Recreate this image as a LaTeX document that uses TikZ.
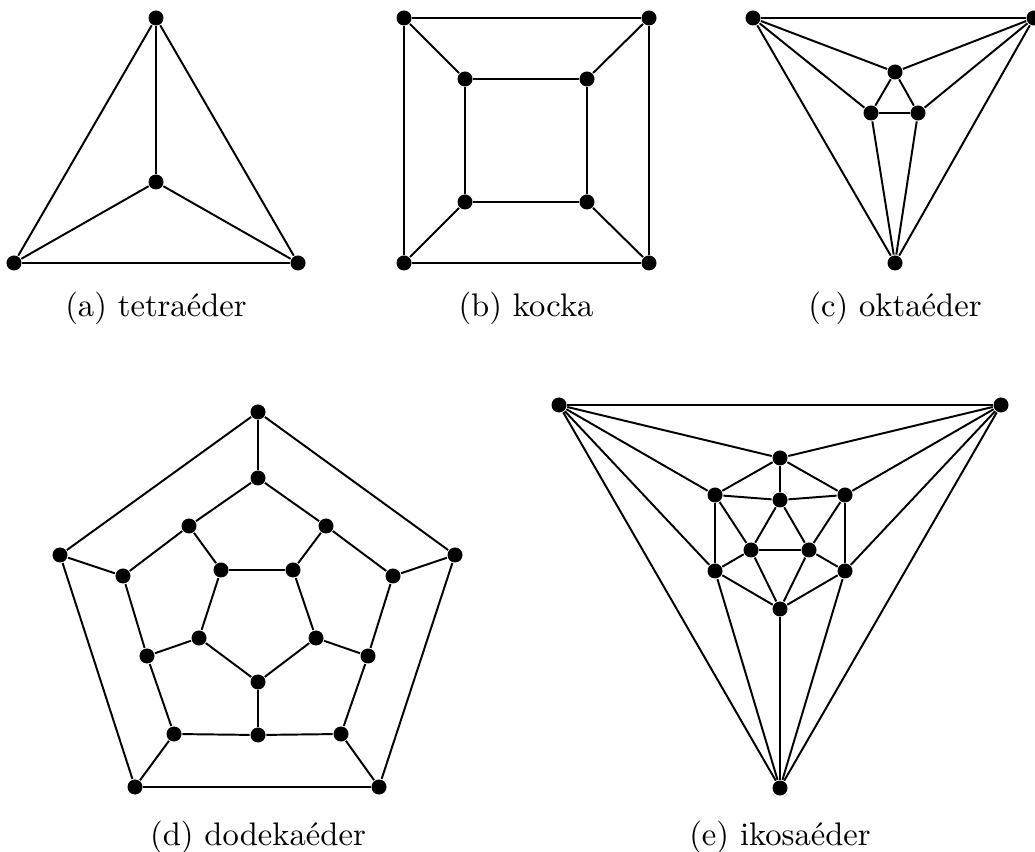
\documentclass[tikz,border=0pt]{standalone}

\tikzset{
	csucs/.style={circle, fill=black, inner sep=0pt, minimum size=4.6pt},
	felirat/.style={anchor=base}
}

\begin{document}
\begin{tikzpicture}[x=0.3066pt, y=-0.3066pt, line width=0.6pt]
		\useasboundingbox (0, 0) rectangle (1035, 852);
		
		% tetraeder
		\node[csucs] (t1) at (156, 18) {};
		\node[csucs] (t2) at (14, 263) {};
		\node[csucs] (t3) at (298, 263) {};
		\node[csucs] (t4) at (156, 182) {};
		\foreach \a/\b in {t1/t2, t2/t3, t3/t1, t4/t1, t4/t2, t4/t3}
			\draw (\a) -- (\b);
		\node[felirat] (fa) at (156, 317) {(a) tetraéder};
		
		% kocka
		\node[csucs] (k1) at (404, 18) {};
		\node[csucs] (k2) at (649, 18) {};
		\node[csucs] (k3) at (649, 263) {};
		\node[csucs] (k4) at (404, 263) {};
		\node[csucs] (k5) at (465, 79) {};
		\node[csucs] (k6) at (587, 79) {};
		\node[csucs] (k7) at (587, 202) {};
		\node[csucs] (k8) at (465, 202) {};
		\foreach \a/\b in {k1/k2, k2/k3, k3/k4, k4/k1, k5/k6, k6/k7, k7/k8, k8/k5,
			k1/k5, k2/k6, k3/k7, k4/k8}
			\draw (\a) -- (\b);
		\node[felirat] (fb) at (526, 317) {(b) kocka};
		
		% oktaeder
		\node[csucs] (o1) at (753, 18) {};
		\node[csucs] (o2) at (1034, 18) {};
		\node[csucs] (o3) at (895, 263) {};
		\node[csucs] (o4) at (895, 72) {};
		\node[csucs] (o5) at (871, 113) {};
		\node[csucs] (o6) at (918, 113) {};
		\foreach \a/\b in {o1/o2, o2/o3, o3/o1, o4/o5, o5/o6, o6/o4,
			o1/o4, o1/o5, o2/o4, o2/o6, o3/o5, o3/o6}
			\draw (\a) -- (\b);
		\node[felirat] (fc) at (895, 317) {(c) oktaéder};
		
		% dodekaeder
		\node[csucs] (a1) at (258, 412) {};
		\node[csucs] (a2) at (455, 555) {};
		\node[csucs] (a3) at (379, 787) {};
		\node[csucs] (a4) at (135, 787) {};
		\node[csucs] (a5) at (60, 555) {};
		\node[csucs] (b1) at (258, 478) {};
		\node[csucs] (b2) at (393, 576) {};
		\node[csucs] (b3) at (341, 734) {};
		\node[csucs] (b4) at (174, 734) {};
		\node[csucs] (b5) at (123, 576) {};
		\node[csucs] (c1) at (326, 526) {};
		\node[csucs] (c2) at (368, 656) {};
		\node[csucs] (c3) at (258, 735) {};
		\node[csucs] (c4) at (147, 656) {};
		\node[csucs] (c5) at (189, 526) {};
		\node[csucs] (d1) at (293, 570) {};
		\node[csucs] (d2) at (316, 638) {};
		\node[csucs] (d3) at (258, 682) {};
		\node[csucs] (d4) at (199, 638) {};
		\node[csucs] (d5) at (221, 570) {};
		\foreach \i [evaluate=\i as \j using {int(mod(\i,5)+1)}] in {1,...,5} {
			\draw (a\i) -- (a\j);
			\draw (a\i) -- (b\i);
			\draw (b\i) -- (c\i) -- (b\j);
			\draw (c\i) -- (d\i);
			\draw (d\i) -- (d\j);
		}
		\node[felirat] (fd) at (258, 845) {(d) dodekaéder};
		
		% ikosaeder
		\node[csucs] (i1) at (559, 405) {};
		\node[csucs] (i2) at (1001, 405) {};
		\node[csucs] (i3) at (780, 788) {};
		\node[csucs] (h1) at (780, 458) {};
		\node[csucs] (h2) at (845, 495) {};
		\node[csucs] (h3) at (845, 571) {};
		\node[csucs] (h4) at (780, 609) {};
		\node[csucs] (h5) at (715, 571) {};
		\node[csucs] (h6) at (715, 495) {};
		\node[csucs] (m1) at (780, 500) {};
		\node[csucs] (m2) at (809, 550) {};
		\node[csucs] (m3) at (751, 550) {};
		\foreach \a/\b in {i1/i2, i2/i3, i3/i1,
			i1/h1, i1/h6, i1/h5, i2/h1, i2/h2, i2/h3, i3/h3, i3/h4, i3/h5,
			h1/h2, h2/h3, h3/h4, h4/h5, h5/h6, h6/h1,
			m1/m2, m2/m3, m3/m1,
			m1/h1, m1/h2, m1/h6, m2/h2, m2/h3, m2/h4, m3/h4, m3/h5, m3/h6}
			\draw (\a) -- (\b);
		\node[felirat] (fe) at (780, 845) {(e) ikosaéder};
	\end{tikzpicture}
\end{document}
